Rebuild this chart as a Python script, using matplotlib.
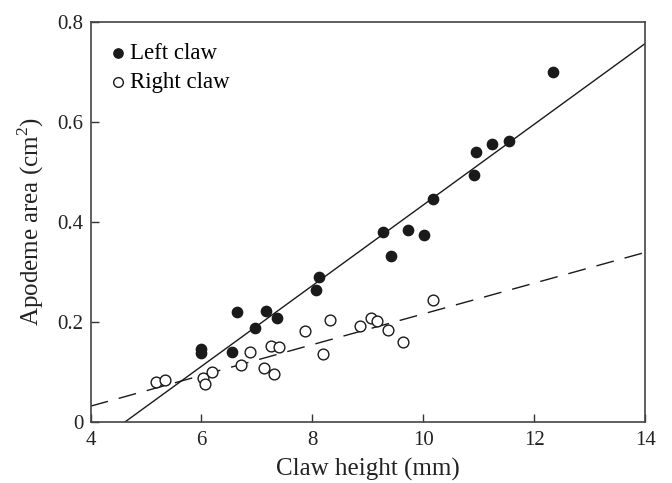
import matplotlib
matplotlib.use("Agg")
import matplotlib.pyplot as plt
import numpy as np

# Left claw (filled circles)
left_x = [6.00, 6.00, 6.55, 6.65, 6.96, 7.17, 7.37, 8.07, 8.12, 9.28,
          9.42, 9.73, 10.02, 10.18, 10.92, 10.95, 11.24, 11.55, 12.34]
left_y = [0.145, 0.137, 0.140, 0.220, 0.187, 0.222, 0.208, 0.264, 0.289, 0.379,
          0.332, 0.383, 0.374, 0.446, 0.494, 0.540, 0.556, 0.563, 0.700]

# Right claw (open circles)
right_x = [5.18, 5.34, 6.02, 6.06, 6.19, 6.71, 6.88, 7.13, 7.25, 7.31,
           7.40, 7.87, 8.20, 8.32, 8.85, 9.06, 9.16, 9.36, 9.63, 10.18]
right_y = [0.080, 0.084, 0.087, 0.076, 0.099, 0.113, 0.139, 0.108, 0.152, 0.096,
           0.150, 0.182, 0.135, 0.203, 0.192, 0.207, 0.201, 0.184, 0.159, 0.244]

# fitted lines (slope, intercept)
left_fit = (0.0808, -0.374)
right_fit = (0.0308, -0.0922)

x_ticks = [4, 6, 8, 10, 12, 14]
y_ticks = [0, 0.2, 0.4, 0.6, 0.8]
y_tick_labels = ["0", "0.2", "0.4", "0.6", "0.8"]

plt.rcParams['font.family'] = ['Liberation Serif', 'DejaVu Serif']
plt.rcParams['mathtext.fontset'] = 'custom'
plt.rcParams['mathtext.rm'] = 'Liberation Serif'

fig = plt.figure(figsize=(6.72, 4.83), dpi=100)
ax = fig.add_axes([0.1347, 0.127, 0.8253, 0.827])

xs = np.array([4, 14])
ax.plot(xs, left_fit[0] * xs + left_fit[1], color='#1a1a1a', lw=1.0, zorder=2)
ax.plot(xs, right_fit[0] * xs + right_fit[1], color='#1a1a1a', lw=1.0,
        dashes=(13, 8), zorder=2)

ax.scatter(left_x, left_y, s=55, color='#1a1a1a', zorder=3, label='Left claw')
ax.scatter(right_x, right_y, s=60, facecolor='white', edgecolor='#1a1a1a',
           linewidth=1.0, zorder=3, label='Right claw')

ax.set_xlim(4, 14)
ax.set_ylim(0, 0.8)
ax.set_xticks(x_ticks)
ax.set_xticklabels([str(t) for t in x_ticks])
ax.set_yticks(y_ticks)
ax.set_yticklabels(y_tick_labels)
ax.tick_params(direction='in', length=6, width=1, colors='#333333',
               labelsize=15, labelcolor='#222222', pad=5)
ax.tick_params(axis='x', pad=7)

for sp in ax.spines.values():
    sp.set_color('#444444')
    sp.set_linewidth(1.2)

ax.set_xlabel('Claw height (mm)', fontsize=18, color='#222222', labelpad=5.5)
ax.set_ylabel('Apodeme area (cm$^2$)', fontsize=18, color='#222222', labelpad=8)

ax.legend(loc='upper left', bbox_to_anchor=(0.033, 0.947), frameon=False,
          fontsize=16.5, handletextpad=0.13, borderaxespad=0, borderpad=0,
          labelspacing=0.35, markerscale=0.9, handlelength=0.8)

fig.savefig('out.png', dpi=100)
